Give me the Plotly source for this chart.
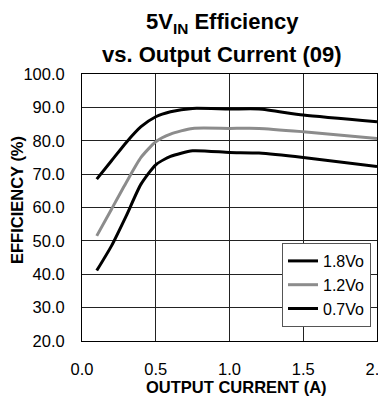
import plotly.graph_objects as go

x_current = [0.1, 0.2, 0.3, 0.4, 0.5, 0.6, 0.75, 1.0, 1.2, 1.5, 2.0]
eff_18 = [68.5, 74.0, 79.5, 84.2, 87.2, 88.7, 89.7, 89.5, 89.5, 87.7, 85.7]
eff_12 = [51.5, 59.5, 67.5, 75.0, 79.7, 82.0, 83.7, 83.7, 83.7, 82.7, 80.7]
eff_07 = [41.1, 48.5, 57.5, 67.0, 72.8, 75.3, 77.0, 76.5, 76.3, 75.0, 72.3]
series_names = ["1.8Vo", "1.2Vo", "0.7Vo"]
series_colors = ["#000000", "#8c8c8c", "#000000"]
x_ticks = [0.0, 0.5, 1.0, 1.5, 2.0]
y_ticks = [20, 30, 40, 50, 60, 70, 80, 90, 100]

FONT = "Liberation Sans, Arial, sans-serif"

# page has an 8px body margin; figure placed at (8, 8)
OFF = 8
W, H = 386 - OFF, 399 - OFF
ML, MR, MT, MB = 82 - OFF, 9, 74 - OFF, H - (341 - OFF)
PW, PH = W - ML - MR, H - MT - MB


def px_to_paper(px, py):
    fx, fy = px - OFF, py - OFF
    return (fx - ML) / PW, (H - fy - MB) / PH


fig = go.Figure()
for name, ys, col in zip(series_names, [eff_18, eff_12, eff_07], series_colors):
    fig.add_trace(go.Scatter(
        x=x_current, y=ys, name=name, mode="lines",
        line=dict(color=col, width=3, shape="spline", smoothing=0.6),
    ))

lx, ly = px_to_paper(282, 243)
fig.update_layout(
    width=W, height=H,
    margin=dict(l=ML, r=MR, t=MT, b=MB),
    plot_bgcolor="white", paper_bgcolor="white",
    font=dict(family=FONT, size=16, color="black"),
    showlegend=True,
    legend=dict(
        x=lx, y=ly, xanchor="left", yanchor="top",
        bgcolor="white", bordercolor="#555555", borderwidth=1,
        font=dict(family=FONT, size=16, color="black"),
        itemwidth=30, tracegroupgap=0,
    ),
    xaxis=dict(
        range=[0, 2], tickvals=x_ticks, ticktext=[f"{v:.1f}" for v in x_ticks],
        showgrid=True, gridcolor="#222222", gridwidth=1,
        showline=True, linecolor="black", linewidth=1, mirror=True,
        zeroline=False, ticks="", ticklabelstandoff=13,
        ticklabeloverflow="allow", automargin=False,
        tickfont=dict(family=FONT, size=16.5),
    ),
    yaxis=dict(
        range=[20, 100], tickvals=y_ticks, ticktext=[f"{v:.1f}" for v in y_ticks],
        showgrid=True, gridcolor="#222222", gridwidth=1,
        showline=True, linecolor="black", linewidth=1, mirror=True,
        zeroline=False, ticks="", ticklabelstandoff=13,
        tickfont=dict(family=FONT, size=16.5),
    ),
)

texts = [
    ("<b>5V<sub>IN</sub> Efficiency</b>", 222, 23, 22, 0),
    ("<b>vs. Output Current (09)</b>", 222, 54, 22, 0),
    ("<b>OUTPUT CURRENT (A)</b>", 236, 387, 16.5, 0),
    ("<b>EFFICIENCY (%)</b>", 17, 200, 16.5, -90),
]
for t, px, py, fs, ang in texts:
    ax, ay = px_to_paper(px, py)
    fig.add_annotation(text=t, x=ax, y=ay, xref="paper", yref="paper",
                       xanchor="center", yanchor="middle", showarrow=False,
                       textangle=ang, font=dict(family=FONT, size=fs, color="black"))

fig.write_html("out.html")
